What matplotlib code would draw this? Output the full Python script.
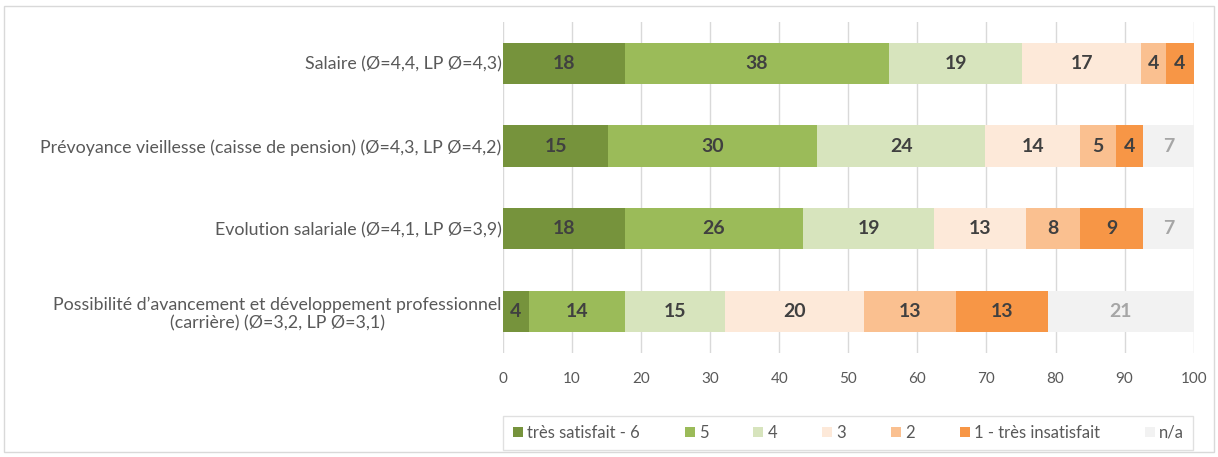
import numpy as np
import matplotlib.pyplot as plt
from matplotlib.patches import Rectangle

# Données (pourcentages)
categories = [
    "Salaire (Ø=4,4, LP Ø=4,3)",
    "Prévoyance vieillesse (caisse de pension) (Ø=4,3, LP Ø=4,2)",
    "Evolution salariale (Ø=4,1, LP Ø=3,9)",
    "Possibilité d’avancement et développement professionnel\n(carrière) (Ø=3,2, LP Ø=3,1)",
]
series = ["très satisfait - 6", "5", "4", "3", "2", "1 - très insatisfait", "n/a"]
tres_satisfait = [17.6, 15.2, 17.6, 3.7]
note5 = [38.3, 30.3, 25.9, 13.9]
note4 = [19.3, 24.3, 18.9, 14.6]
note3 = [17.2, 13.8, 13.3, 20.1]
note2 = [3.6, 5.2, 7.9, 13.3]
tres_insatisfait = [4.0, 3.9, 9.1, 13.3]
na = [0.0, 7.3, 7.3, 21.1]

couleurs = ["#76933C", "#9BBB59", "#D7E4BD", "#FDE9D9", "#FAC090", "#F79646", "#F2F2F2"]

plt.rcParams['font.family'] = ['Lato', 'DejaVu Sans']

valeurs = [tres_satisfait, note5, note4, note3, note2, tres_insatisfait, na]

fig = plt.figure(figsize=(12.18, 4.57), dpi=100)
ax = fig.add_axes([0.413, 0.228, 0.567, 0.724])

# cadre extérieur
fig.patches.append(Rectangle((0.003, 0.012), 0.994, 0.975, transform=fig.transFigure,
                             fill=False, edgecolor="#D9D9D9", linewidth=1))

y = np.arange(len(categories))
gauche = np.zeros(len(categories))
for nom, vals, c in zip(series, valeurs, couleurs):
    vals = np.array(vals)
    ax.barh(y, vals, left=gauche, height=0.5, color=c, label=nom, zorder=3)
    couleur_txt = "#A6A6A6" if nom == "n/a" else "#404040"
    for i, v in enumerate(vals):
        if v > 0:
            ax.text(gauche[i] + v / 2, y[i], f"{round(v):d}", ha="center", va="center",
                    fontsize=14, fontweight="bold", color=couleur_txt, zorder=4)
    gauche += vals

ax.set_xlim(0, 100)
ax.set_ylim(3.5, -0.5)
ax.set_xticks(np.arange(0, 101, 10))
ax.set_yticks(y)
ax.set_yticklabels(categories, fontsize=12.8, color="#595959", multialignment="center")
ax.tick_params(axis="both", length=0, colors="#595959")
ax.tick_params(axis="x", labelsize=11, pad=14)
ax.tick_params(axis="y", pad=1)
ax.grid(axis="x", color="#D9D9D9", linewidth=1, zorder=0)
for s in ax.spines.values():
    s.set_visible(False)

leg = ax.legend(loc="upper center", bbox_to_anchor=(0.5, -0.165), ncol=7, frameon=True,
                fontsize=12, handlelength=0.6, handleheight=0.6, handletextpad=0.25,
                columnspacing=2.7, fancybox=False, borderpad=0.55)
leg.get_frame().set_edgecolor("#D9D9D9")
leg.get_frame().set_linewidth(1)
for t in leg.get_texts():
    t.set_color("#595959")

fig.savefig("out.png", dpi=100)
